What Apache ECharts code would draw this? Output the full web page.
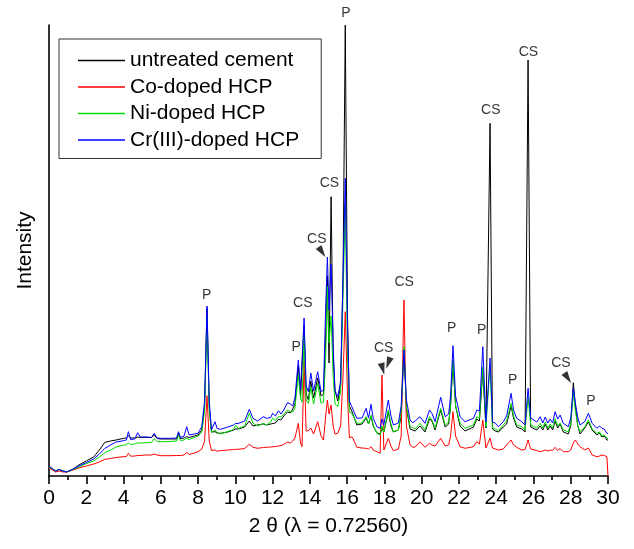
<!DOCTYPE html>
<html><head><meta charset="utf-8">
<script src="https://cdn.jsdelivr.net/npm/echarts@6/dist/echarts.min.js"></script>
<style>html,body{margin:0;padding:0;background:#fff}#c{width:634px;height:549px}</style>
</head><body><div id="c"></div>
<script>
// 2θ positions (degrees)
const twoTheta = [0,0.2,0.35,0.55,0.75,0.95,1.3,1.6,2.0,2.4,
 2.7,3.0,3.3,3.6,4.0,4.15,4.26,4.38,4.6,4.76,
 4.9,5.2,5.5,5.65,5.8,6.0,6.5,6.85,6.95,7.05,
 7.25,7.39,7.52,7.8,8.0,8.2,8.35,8.48,8.6,8.72,
 8.82,8.91,9.02,9.2,9.6,9.9,10.02,10.15,10.5,10.75,
 10.95,11.2,11.5,11.68,11.9,12.0,12.15,12.31,12.45,12.6,
 12.8,12.95,13.08,13.2,13.38,13.5,13.58,13.69,13.8,13.92,
 14.05,14.2,14.42,14.6,14.73,14.85,14.94,15.03,15.14,15.25,
 15.35,15.5,15.65,15.78,15.9,16.02,16.12,16.25,16.33,16.52,
 16.8,17.02,17.15,17.28,17.4,17.6,17.77,17.87,17.97,18.21,
 18.35,18.48,18.75,18.9,19.05,19.18,19.38,19.52,19.65,19.91,
 20.18,20.42,20.55,20.72,21.02,21.26,21.45,21.55,21.68,21.82,
 22.06,22.33,22.78,22.96,23.1,23.28,23.45,23.55,23.67,23.8,
 23.95,24.12,24.38,24.56,24.8,24.93,25.1,25.37,25.55,25.71,
 25.85,25.95,26.18,26.36,26.5,26.63,26.77,26.9,27.03,27.16,
 27.3,27.43,27.6,27.87,28.0,28.14,28.25,28.38,28.5,28.75,
 28.95,29.15,29.4,29.55,29.67,29.8,29.94,30];

// intensities (arbitrary units)
const untreatedCement = [9,7,5,6.5,5,4,7,11,15,19,
 26,33.7,35,36,37.7,38,40,38,38,39,
 38.5,38.7,38.5,41,37.5,37,37,37,43.3,37.5,
 38,39.3,38.5,40,41,46,70,168,70,44,
 43.5,44.3,43,42.7,44,46,47,47,49,55,
 50,51,52,51,52,54,53,56.7,56,60,
 64,63,67,72,110,80,78,150,82,76,
 95,78,98,80,82,140,200,113,279.3,120,
 85,75,90,200,451,160,70,65,64,51,
 52,58,52,60,50,43,42,48,44,64,
 50,44,46,60,126,68,47,46,45,50,
 44,57,55,46,66,49,52,70,114,70,
 50,45,49,57,55,105,48,47,352.7,47,
 45,44,49,52,70,58,49,47,44,416,
 49,49,46,50,46,52,46,50,46,55,
 48,52,44,42,50,93.3,70,50,42,48,
 54,46,41,43,39,40,36,36];

const coDoped = [8,6,4,5,4,4,6,8,10,12,
 14,16.7,17.5,18.5,19.3,19.5,22.7,19.8,20,20.5,
 20.5,21,21,22,21,20.3,20.3,20.5,21,20.5,
 21,23.7,21.5,23,24.3,27,35,80.3,35,25.5,
 24.3,26,24.8,25.3,26,26.5,26.7,26.7,27.5,31.7,
 28.7,27.7,28.5,28.7,29,30,29.5,30,30.5,31.5,
 34,33,35,38,52.7,33,29.3,115,45,45.3,
 48,42,54.3,40,36,60,76,62,71,50,
 42,42.7,50,100,164.3,80,38,39.3,37,28.7,
 28,27.7,27,29.3,26,24.3,22.7,101,26,37.7,
 30,25.3,27,40,176,50,31,28.7,29,34.3,
 28.7,32.7,31,30,37.7,30,31,40,64.3,40,
 29.3,27.7,29.3,34.3,32,56,28,28,38,28,
 27,26,27,31,36,31,28.7,26,26.5,36,
 27,26.7,25.5,24.3,25,26,25,26,25.5,28.7,
 25.5,27.5,24.3,24.3,26,33,36,32,29.3,26,
 28,21,19.3,20,21,20.5,19.3,0];

const niDoped = [9,7,5,6.5,5,4,6.5,9,12.3,15,
 19,23.3,26,29,31,31,33.3,31.5,32,33,
 33,33.3,33.5,37.3,34.5,34.3,34.5,35,41,35.5,
 36,37.7,36.5,38.5,40,44,65,159,65,43.5,
 43,46,43.5,42,44.5,46.5,50.7,47.5,50,62.7,
 52.7,50,52.7,51,54,57.7,55.5,59.3,59,62,
 66,64,64,68,101,78,74,140,76,72.7,
 89,72,92.7,72.7,74,120,190,133,160,100,
 72,69.3,85,180,271,120,64,62.7,62,52.7,
 53,59.3,52,61,51,42.7,41,50,44,66,
 52,44.3,46,65,129.3,70,49.3,48.3,47,52.7,
 46,59.3,56,47.7,67.7,51,54,70,116,70,
 52.7,47.7,51,59.3,58,109,49,48,111,48,
 47,45.3,51,55,72.7,60,51,49.3,46,79,
 51,51,48,52.7,48,54,48,52,48,57.3,
 50,53,46,44.3,52,82.7,65,50,44.3,49,
 56,47,42.7,44,40,41,37.7,37.5];

const crDoped = [10,7,5,6.5,5,4,7,10,13.3,17,
 22,27.7,31,34,35.3,36,44.3,36.5,37,43.3,
 39,39,38.5,42.7,38,37.7,37.7,38,44.3,38.5,
 40,49.3,41,42,42.7,49.3,75,170,75,46,
 46,54.3,47.5,46.7,49,51,52.7,52.5,55,66.7,
 57.7,55,59.3,57.7,58.5,62.7,60,65.3,62,66,
 73.3,72,70,78,116,86,86,158,90,84.3,
 103,85,104.3,84.3,86,170,219,166,212,130,
 85,79.3,95,200,297.7,150,75,69.3,70,57.7,
 58,67.7,58,71.7,57.7,49.3,47.7,57,51,76,
 60,51,53,70,126,76,56,53.3,55,59.3,
 52.7,66,62.7,54.3,78.7,59.3,62,80,130.3,80,
 59.3,54.3,57.7,66,65,129.3,54,55,118,54,
 53,49.3,54.3,60,82.7,66,57.7,54.3,51,87.7,
 58,56,54,59.3,53,59,53,57,53,64.3,
 57,61,52.7,49.3,58,87.7,72.7,58,51,54.3,
 62.7,52.7,47.7,50,47.7,47,42.7,42.5];

const seriesNames = ['untreated cement','Co-doped HCP','Ni-doped HCP','Cr(III)-doped HCP'];

// peak annotations (2θ, intensity, phase)
const peakLabelX = [8.46,13.26,13.62,14.37,15.05,15.94,17.96,19.06,21.61,23.22,23.71,24.89,25.73,27.47,29.08];
const peakLabelY = [181,129,173,237,293,463,128,194,148,146,366,96,424,113,75];
const peakLabelText = ['P','P','CS','CS','CS','P','CS','CS','P','P','CS','P','CS','CS','P'];

// arrow marks (2θ, intensity)
const arrowX = [14.65,17.91,18.21,27.84];
const arrowY = [224,107,113,98];
</script>
<script>
const FONT = 'Arial, "Liberation Sans", sans-serif';
const colors = ['#000000','#ff0000','#00dd00','#0000ff'];
const valueSets = [untreatedCement, coDoped, niDoped, crDoped];
const arrowRotate = [214, 195, 160, 214];

const chart = echarts.init(document.getElementById('c'), null, {renderer:'canvas'});
const lineSeries = seriesNames.map((n, k) => ({
  name: n, type: 'line', symbol: 'none', smooth: false,
  data: twoTheta.map((x, i) => [x, valueSets[k][i]]),
  lineStyle: {color: colors[k], width: 1},
  itemStyle: {color: colors[k]},
  z: 2 + k, animation: false, silent: true
}));

chart.setOption({
  animation: false,
  backgroundColor: '#fff',
  textStyle: {fontFamily: FONT},
  grid: {left: 49, right: 26, top: 25, bottom: 73, outerBoundsMode: 'none', containLabel: false},
  legend: {
    data: seriesNames, orient: 'vertical', left: 59, top: 39,
    padding: [11, 22, 8, 19], itemGap: 5.5, itemWidth: 47, itemHeight: 1.5,
    icon: 'rect',
    borderColor: '#333', borderWidth: 1, backgroundColor: '#fff',
    textStyle: {fontSize: 21, color: '#000', fontFamily: FONT},
    selectedMode: false
  },
  xAxis: {
    type: 'value', min: 0, max: 30, interval: 2,
    name: '2 θ (λ = 0.72560)', nameLocation: 'middle', nameGap: 40,
    nameTextStyle: {fontSize: 21, color: '#000', fontFamily: FONT},
    axisLine: {show: true, onZero: false, lineStyle: {color: '#000', width: 1.6}},
    axisTick: {show: true, inside: false, length: 8, lineStyle: {color: '#000', width: 1.6}},
    minorTick: {show: true, splitNumber: 2, length: 4, lineStyle: {color: '#000', width: 1.6}},
    axisLabel: {fontSize: 21, color: '#000', margin: 12, fontFamily: FONT},
    splitLine: {show: false}, minorSplitLine: {show: false}
  },
  yAxis: {
    type: 'value', min: 0, max: 451,
    name: 'Intensity', nameLocation: 'middle', nameGap: 13, nameRotate: 90,
    nameTextStyle: {fontSize: 21, color: '#000', fontFamily: FONT},
    axisLine: {show: true, onZero: false, lineStyle: {color: '#000', width: 1.6}},
    axisTick: {show: false}, axisLabel: {show: false}, splitLine: {show: false}
  },
  series: lineSeries.concat([
    {
      name: 'labels', type: 'scatter', clip: false, silent: true, z: 10,
      symbol: 'circle', symbolSize: 0, itemStyle: {color: 'rgba(0,0,0,0)'},
      data: peakLabelX.map((x, i) => ({value: [x, peakLabelY[i]], name: peakLabelText[i]})),
      label: {show: true, position: 'inside', formatter: '{b}', color: '#000', fontSize: 14, fontFamily: FONT}
    },
    {
      name: 'arrows', type: 'scatter', clip: false, silent: true, z: 10,
      symbol: 'triangle', symbolSize: [7, 12], itemStyle: {color: '#000'},
      data: arrowX.map((x, i) => ({value: [x, arrowY[i]], symbolRotate: arrowRotate[i]}))
    }
  ])
});
</script>
</body></html>
